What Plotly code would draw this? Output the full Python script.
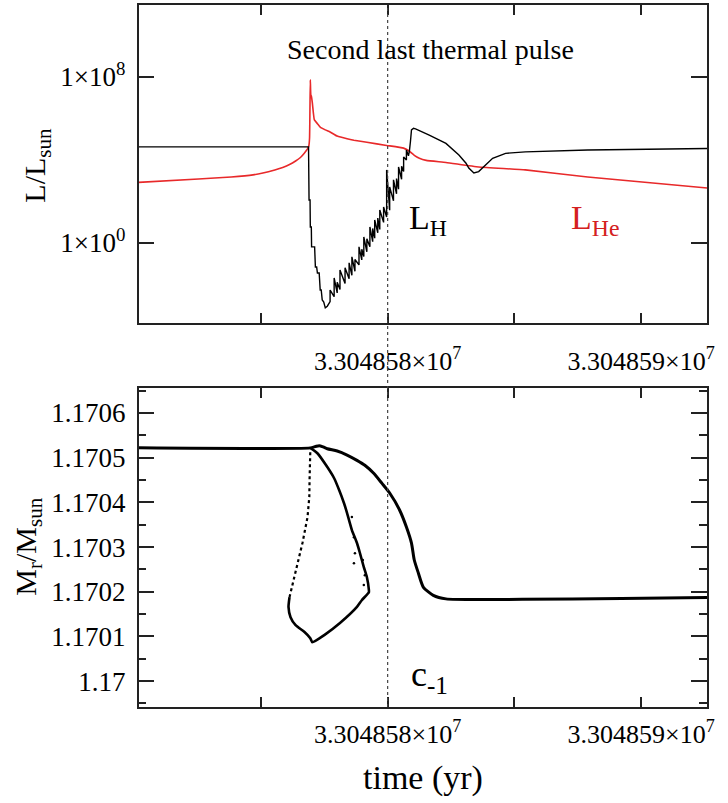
import plotly.graph_objects as go

# ---------------- data ----------------
T0 = 33048580.0  # yr, reference epoch (dotted line)

# top panel: L_H (black) as log10(L/Lsun) vs time offset (yr) from T0
lh_pre_dt = [-9.82, -3.12, -3.10, -3.06, -3.05, -3.01, -3.00, -2.88, -2.85, -2.80,
             -2.77, -2.70, -2.66, -2.62, -2.58, -2.52, -2.46, -2.38]
lh_pre_log = [4.63, 4.63, 2.07, 2.07, 0.77, 0.77, -0.19, -0.19, -1.16, -1.16,
              -1.45, -1.45, -2.27, -2.27, -2.75, -2.85, -3.13, -3.05]

tooth_dt = [-2.27, -2.11, -1.99, -1.88, -1.68, -1.52, -1.41, -1.29, -1.13, -1.02,
            -0.94, -0.82, -0.70, -0.59, -0.51, -0.39, -0.31, -0.16, -0.04, 0.08,
            0.23, 0.35, 0.43, 0.55, 0.63, 0.74]
tooth_base_log = [-2.83, -2.59, -2.41, -2.24, -1.96, -1.73, -1.56, -1.37, -1.06, -0.82,
                  -0.66, -0.43, -0.19, 0.06, 0.23, 0.49, 0.65, 0.99, 1.25, 1.58,
                  2.03, 2.37, 2.59, 3.07, 3.44, 4.00]
tooth_top_log = [-2.27, -1.69, -1.90, -1.30, -1.20, -0.96, -0.67, -0.80, -0.19, -0.30,
                 0.29, 0.20, 0.77, 0.70, 1.11, 1.20, 1.59, 1.73, 3.52, 2.70,
                 3.04, 3.10, 3.66, 3.70, 4.14, 4.48]

lh_post_dt = [0.82, 0.86, 0.90, 0.94, 1.02, 1.10, 1.64, 2.30, 2.81, 3.09, 3.20,
              3.40, 3.59, 3.79, 4.14, 4.65, 5.43, 7.89, 12.60]
lh_post_log = [4.20, 4.45, 4.90, 5.45, 5.53, 5.50, 5.20, 4.80, 4.24, 3.84, 3.61,
               3.37, 3.44, 3.68, 4.08, 4.32, 4.39, 4.48, 4.55]

# top panel: L_He (red)
lhe_dt = [-9.82, -7.46, -6.17, -5.31, -4.92, -4.45, -4.14, -3.87, -3.63, -3.44,
          -3.28, -3.16, -3.11, -3.08, -3.05, -3.03, -3.01, -2.97, -2.93, -2.89,
          -2.77, -2.66, -2.46, -2.27, -1.99, -1.60, -1.33, -0.82, -0.04, 0.63,
          0.86, 1.05, 1.25, 1.52, 2.30, 3.59, 5.43, 7.89, 12.60]
lhe_log = [2.92, 3.08, 3.18, 3.28, 3.37, 3.52, 3.64, 3.78, 3.95, 4.12,
           4.34, 4.53, 4.67, 5.06, 7.86, 7.13, 7.08, 6.75, 6.27, 5.93,
           5.75, 5.58, 5.45, 5.35, 5.15, 5.02, 4.95, 4.85, 4.70, 4.57,
           4.42, 4.22, 4.08, 3.98, 3.88, 3.66, 3.52, 3.18, 2.65]

# bottom panel: Mr/Msun
mr_main_dt = [-9.82, -3.05, -2.85, -2.70, -2.54, -2.38, -1.99, -1.60, -1.21, -0.90,
              -0.55, -0.23, 0.08, 0.47, 0.74, 0.94, 1.05, 1.21, 1.41, 1.80,
              2.30, 5.31, 9.22, 12.60]
mr_main = [1.170522, 1.170522, 1.170525, 1.170527, 1.170524, 1.170520, 1.170515,
           1.170506, 1.170494, 1.170483, 1.170465, 1.170443, 1.170421, 1.170383,
           1.170345, 1.170309, 1.170271, 1.170242, 1.170210, 1.170192,
           1.170184, 1.170183, 1.170185, 1.170187]

mr_loop_dt = [-3.05, -2.77, -2.38, -2.11, -1.91, -1.72, -1.60, -1.41, -1.21, -1.09,
              -0.94, -0.82, -0.74, -0.74, -1.02, -1.21, -1.88, -2.50, -2.97, -3.05,
              -3.28, -3.63, -3.83, -3.91, -3.87]
mr_loop = [1.170522, 1.170510, 1.170479, 1.170454, 1.170427, 1.170398, 1.170376,
           1.170338, 1.170309, 1.170286, 1.170255, 1.170233, 1.170204, 1.170199,
           1.170181, 1.170166, 1.170130, 1.170103, 1.170087, 1.170096,
           1.170110, 1.170125, 1.170143, 1.170166, 1.170188]

mr_left_dt = [-3.87, -3.63, -3.36, -3.16, -3.09, -3.08, -3.05]
mr_left = [1.170188, 1.170248, 1.170309, 1.170367, 1.170412, 1.170450, 1.170517]

mr_scatter_dt = [-1.41, -1.33, -1.29, -1.33, -0.98, -0.90, -0.94]
mr_scatter = [1.170367, 1.170322, 1.170286, 1.170264, 1.170271, 1.170237, 1.170215]

# ticks
x_tick_dt = [0, 10]
x_tick_text = ["3.304858×10<sup>7</sup>", "3.304859×10<sup>7</sup>"]
x_minor_dt = [-5, 5]
lum_tick_vals = [1.0, 1e8]
lum_tick_text = ["1×10<sup>0</sup>", "1×10<sup>8</sup>"]
mr_tick_vals = [1.17, 1.1701, 1.1702, 1.1703, 1.1704, 1.1705, 1.1706]
mr_tick_text = ["1.17", "1.1701", "1.1702", "1.1703", "1.1704", "1.1705", "1.1706"]
mr_minor_vals = [1.16995, 1.17005, 1.17015, 1.17025, 1.17035, 1.17045, 1.17055, 1.17065]

# ---------------- build ----------------
lh_dt = list(lh_pre_dt)
lh_log = list(lh_pre_log)
for d, b, t in zip(tooth_dt, tooth_base_log, tooth_top_log):
    lh_dt += [d, d]
    lh_log += [b, t]
lh_dt += lh_post_dt
lh_log += lh_post_log


def tt(dts):
    return [T0 + d for d in dts]


FONT = "Liberation Serif, Times New Roman, serif"
AX = "#222"

fig = go.Figure()
fig.add_trace(go.Scatter(x=tt(lhe_dt), y=[10 ** v for v in lhe_log], mode="lines",
                         line=dict(color="#e8292a", width=1.6, shape="spline", smoothing=0.4),
                         xaxis="x", yaxis="y"))
fig.add_trace(go.Scatter(x=tt(lh_dt), y=[10 ** v for v in lh_log], mode="lines",
                         line=dict(color="black", width=1.4), xaxis="x", yaxis="y"))

fig.add_trace(go.Scatter(x=tt(mr_main_dt), y=mr_main, mode="lines",
                         line=dict(color="black", width=3, shape="spline", smoothing=0.6),
                         xaxis="x2", yaxis="y2"))
fig.add_trace(go.Scatter(x=tt(mr_loop_dt), y=mr_loop, mode="lines",
                         line=dict(color="black", width=2.6, shape="spline", smoothing=0.5),
                         xaxis="x2", yaxis="y2"))
fig.add_trace(go.Scatter(x=tt(mr_left_dt), y=mr_left, mode="lines",
                         line=dict(color="black", width=2.2, dash="dot"), xaxis="x2", yaxis="y2"))
fig.add_trace(go.Scatter(x=tt(mr_scatter_dt), y=mr_scatter, mode="markers",
                         marker=dict(color="black", size=2.5), xaxis="x2", yaxis="y2"))

xdom = [140 / 728, 714 / 728]
top_dom = [1 - 323 / 803, 1 - 5 / 803]
bot_dom = [1 - 707 / 803, 1 - 388 / 803]
xrange = [T0 - 9.82, T0 + 12.6]

common_x = dict(range=xrange, domain=xdom, showline=True, linecolor=AX, linewidth=1.6,
                mirror="ticks", ticks="inside", ticklen=10, tickwidth=1.6, tickcolor=AX,
                tickvals=tt(x_tick_dt), ticktext=x_tick_text, showgrid=False, zeroline=False,
                minor=dict(ticks="inside", ticklen=10, tickwidth=1.6, tickcolor=AX,
                           tickvals=tt(x_minor_dt), showgrid=False),
                tickfont=dict(family=FONT, size=26, color="black"))

common_y = dict(showline=True, linecolor=AX, linewidth=1.6, mirror="ticks",
                ticks="inside", ticklen=16, tickwidth=1.6, tickcolor=AX,
                showgrid=False, zeroline=False, ticklabelstandoff=6,
                tickfont=dict(family=FONT, size=27, color="black"))

fig.update_layout(
    width=728, height=803, margin=dict(l=0, r=0, t=0, b=0),
    paper_bgcolor="white", plot_bgcolor="white", showlegend=False,
    xaxis=dict(common_x, anchor="y", ticklabelstandoff=14),
    xaxis2=dict(common_x, anchor="y2", ticklabelstandoff=3),
    yaxis=dict(common_y, type="log", range=[-3.86, 11.47], domain=top_dom, anchor="x",
               tickvals=lum_tick_vals, ticktext=lum_tick_text),
    yaxis2=dict(common_y, range=[1.169942, 1.170656], domain=bot_dom, anchor="x2",
                tickvals=mr_tick_vals, ticktext=mr_tick_text,
                minor=dict(ticks="inside", ticklen=8, tickwidth=1.6, tickcolor=AX,
                           tickvals=mr_minor_vals, showgrid=False)),
)

fig.add_shape(type="line", xref="x", yref="paper", x0=T0, x1=T0,
              y0=bot_dom[0], y1=top_dom[1],
              line=dict(color="#444", width=1.2, dash="dot"))


def ann(text, x, y, size, color="black", xanchor="center", angle=0):
    fig.add_annotation(text=text, xref="paper", yref="paper", x=x, y=y,
                       xanchor=xanchor, yanchor="middle", showarrow=False,
                       textangle=angle, font=dict(family=FONT, size=size, color=color))


ann("Second last thermal pulse", 435 / 728, 1 - 49 / 803, 28)
ann("L<sub>H</sub>", 411 / 728, 1 - 220 / 803, 34, xanchor="left")
ann("L<sub>He</sub>", 575 / 728, 1 - 220 / 803, 34, color="#d42020", xanchor="left")
ann("c<sub>-1</sub>", 413 / 728, 1 - 676 / 803, 36, xanchor="left")
ann("L/L<sub>sun</sub>", 37 / 728, 1 - 165 / 803, 30, angle=-90)
ann("M<sub>r</sub>/M<sub>sun</sub>", 28 / 728, 1 - 547 / 803, 30, angle=-90)
ann("time (yr)", 427 / 728, 1 - 778 / 803, 34)

fig.write_html("out.html")
